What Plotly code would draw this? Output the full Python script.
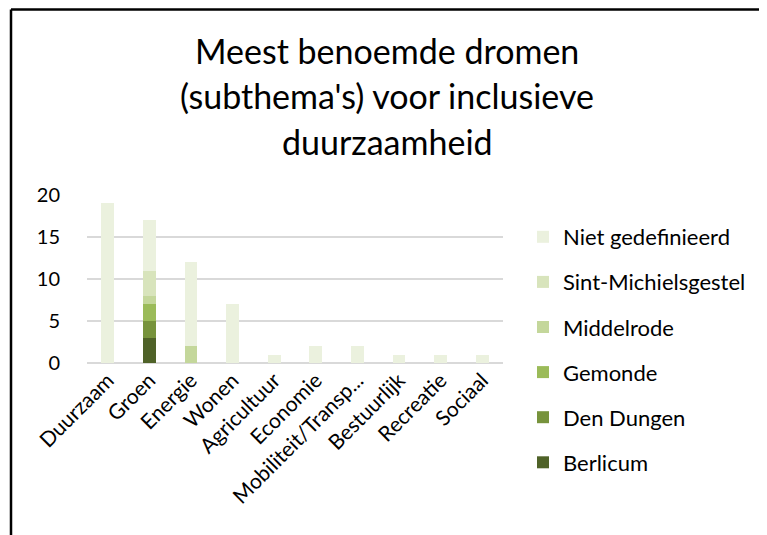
import plotly.graph_objects as go

categories = ["Duurzaam", "Groen", "Energie", "Wonen", "Agricultuur", "Economie",
              "Mobiliteit/Transp...", "Bestuurlijk", "Recreatie", "Sociaal"]

berlicum = [0, 3, 0, 0, 0, 0, 0, 0, 0, 0]
den_dungen = [0, 2, 0, 0, 0, 0, 0, 0, 0, 0]
gemonde = [0, 2, 0, 0, 0, 0, 0, 0, 0, 0]
middelrode = [0, 1, 2, 0, 0, 0, 0, 0, 0, 0]
sint_michielsgestel = [0, 3, 0, 0, 0, 0, 0, 0, 0, 0]
niet_gedefinieerd = [19, 6, 10, 7, 1, 2, 2, 1, 1, 1]

title_lines = ["Meest benoemde dromen", "(subthema's) voor inclusieve", "duurzaamheid"]

series = [
    ("Berlicum", berlicum, "#4F6228"),
    ("Den Dungen", den_dungen, "#77933C"),
    ("Gemonde", gemonde, "#9BBB59"),
    ("Middelrode", middelrode, "#C4D79B"),
    ("Sint-Michielsgestel", sint_michielsgestel, "#D8E4BC"),
    ("Niet gedefinieerd", niet_gedefinieerd, "#EBF1DE"),
]

FONT = "Lato, Open Sans, sans-serif"
fig = go.Figure()
n = len(series)
for i, (name, vals, col) in enumerate(series):
    fig.add_trace(go.Bar(x=categories, y=vals, name=name, marker_color=col,
                         marker_line_width=0, legendgroup=name, legendrank=n - i))

OFF = 8  # page body margin
W, H = 767 - OFF, 535 - OFF
L, R, T, B = 87 - OFF, 503 - OFF, 195 - OFF, 363 - OFF
pw, ph = R - L, B - T

def px(x):
    return (x - OFF - L) / pw

def py(y):
    return (B - (y - OFF)) / ph

annotations = []
for k, line in enumerate(title_lines):
    annotations.append(dict(text=line, xref="paper", yref="paper", x=px(387), y=py(50 + 45.5 * k),
                            xanchor="center", yanchor="middle", showarrow=False,
                            font=dict(family=FONT, size=34, color="#000000")))

fig.update_layout(
    width=W, height=H,
    margin=dict(l=L, r=W - R, t=T, b=H - B, autoexpand=False),
    paper_bgcolor="white", plot_bgcolor="white",
    barmode="stack", bargap=0.695,
    font=dict(family=FONT, color="#000000", size=18),
    annotations=annotations,
    legend=dict(x=px(523), xanchor="left", y=py(216), yanchor="top",
                traceorder="grouped", tracegroupgap=13.5, maxheight=400,
                font=dict(size=22, family=FONT, color="#000000"),
                bgcolor="rgba(0,0,0,0)"),
    xaxis=dict(tickangle=-45, showgrid=False, showline=False, ticks="",
               tickfont=dict(size=21, family=FONT, color="#000000")),
    yaxis=dict(range=[0, 20], dtick=5, showgrid=True, gridcolor="#D9D9D9", gridwidth=1.5,
               zeroline=True, zerolinecolor="#D9D9D9", zerolinewidth=1.5,
               showline=False, ticks="", ticklabelstandoff=26,
               tickfont=dict(size=20, family=FONT, color="#000000")),
    shapes=[
        dict(type="line", xref="paper", yref="paper", x0=px(11), x1=px(800), y0=py(9.5), y1=py(9.5),
             line=dict(color="black", width=2.5)),
        dict(type="line", xref="paper", yref="paper", x0=px(11), x1=px(11), y0=py(9.5), y1=py(560),
             line=dict(color="black", width=2.5)),
    ],
)

fig.write_html("out.html")
